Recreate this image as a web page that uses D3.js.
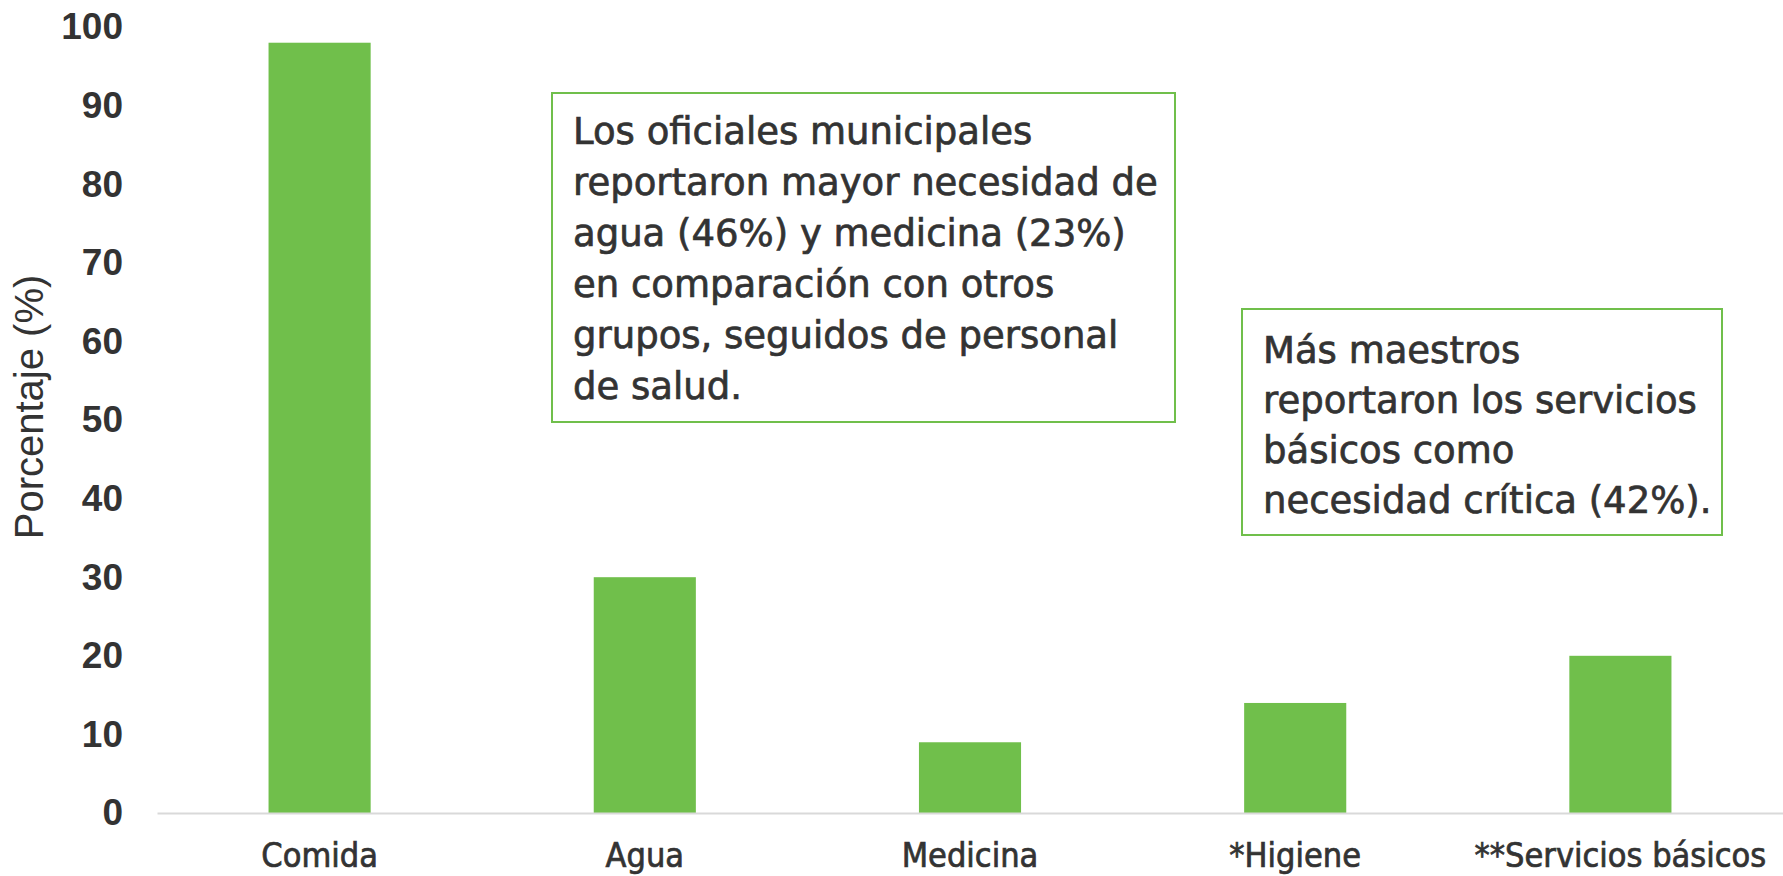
<!DOCTYPE html>
<html>
<head>
<meta charset="utf-8">
<script src="https://cdn.jsdelivr.net/npm/d3@7"></script>
<style>
  body { margin: 0; background: #fff; }
  svg { display: block; }
</style>
</head>
<body>
<div class="view1"></div>
<script>
// Chart data
const categories = ["Comida", "Agua", "Medicina", "*Higiene", "**Servicios básicos"];
const percentValues = [98, 30, 9, 14, 20];
const yTicks = [0, 10, 20, 30, 40, 50, 60, 70, 80, 90, 100];
const yTitle = "Porcentaje (%)";

// Annotation text, one entry per line
const noteOfficials = [
    "Los oficiales municipales",
    "reportaron mayor necesidad de",
    "agua (46%) y medicina (23%)",
    "en comparación con otros",
    "grupos, seguidos de personal",
    "de salud."
];
const noteTeachers = [
    "Más maestros",
    "reportaron los servicios",
    "básicos como",
    "necesidad crítica (42%)."
];

const width = 1783, height = 876;
const margin = {top: 27, right: 0, bottom: 63, left: 157};
const green = "#70bf4b";
const textColor = "#333333";
const boxFont = "'DejaVu Sans', sans-serif";

let svg = d3.select(".view1").append("svg")
    .attr("width", width)
    .attr("height", height);

let x = d3.scaleBand()
    .domain(categories)
    .range([margin.left, width - margin.right])
    .paddingInner(0.686)
    .paddingOuter(0.343);

let y = d3.scaleLinear()
    .domain([0, 100])
    .range([height - margin.bottom, margin.top]);

// y axis: labels only, no line or tick marks
let yAxis = svg.append("g")
    .attr("transform", "translate(" + margin.left + ",0)")
    .call(d3.axisLeft(y).tickValues(yTicks).tickSize(0).tickPadding(34));
yAxis.select(".domain").remove();
yAxis.selectAll("text")
    .attr("font-family", "'Liberation Sans', Arial, sans-serif")
    .attr("font-weight", "bold")
    .attr("font-size", 37)
    .attr("fill", textColor);

// bars
svg.append("g")
    .selectAll("rect")
    .data(categories)
    .enter().append("rect")
    .attr("x", d => x(d))
    .attr("width", x.bandwidth())
    .attr("y", (d, i) => y(percentValues[i]))
    .attr("height", (d, i) => y(0) - y(percentValues[i]))
    .attr("fill", green);

// x axis baseline + category labels
let xAxis = svg.append("g")
    .attr("transform", "translate(0," + y(0) + ")")
    .call(d3.axisBottom(x).tickSize(0).tickPadding(0));
xAxis.select(".domain")
    .attr("stroke", "#d9d9d9")
    .attr("stroke-width", 2);
xAxis.selectAll("text")
    .attr("dy", null)
    .attr("y", 54)
    .attr("font-family", "'DejaVu Sans Condensed', 'DejaVu Sans', sans-serif")
    .attr("font-stretch", "condensed")
    .attr("font-size", 34)
    .attr("fill", textColor)
    .attr("stroke", textColor)
    .attr("stroke-width", 0.7);

// y axis title
svg.append("text")
    .attr("transform", "translate(43,407) rotate(-90)")
    .attr("text-anchor", "middle")
    .attr("font-family", "'Liberation Sans', Arial, sans-serif")
    .attr("font-size", 40)
    .attr("fill", textColor)
    .text(yTitle);

// annotation boxes
function drawNote(lines, bx, by, bw, bh, firstBaseline, lineStep) {
    let g = svg.append("g");
    g.append("rect")
        .attr("x", bx).attr("y", by)
        .attr("width", bw).attr("height", bh)
        .attr("fill", "#fff")
        .attr("stroke", green)
        .attr("stroke-width", 2);
    g.selectAll("text")
        .data(lines)
        .enter().append("text")
        .attr("x", bx + 21)
        .attr("y", (d, i) => firstBaseline + i * lineStep)
        .attr("font-family", boxFont)
        .attr("font-size", 37)
        .attr("fill", textColor)
        .attr("stroke", textColor)
        .attr("stroke-width", 0.7)
        .text(d => d);
}

drawNote(noteOfficials, 552, 93, 623, 329, 144, 51);
drawNote(noteTeachers, 1242, 309, 480, 226, 363, 50);
</script>
</body>
</html>
